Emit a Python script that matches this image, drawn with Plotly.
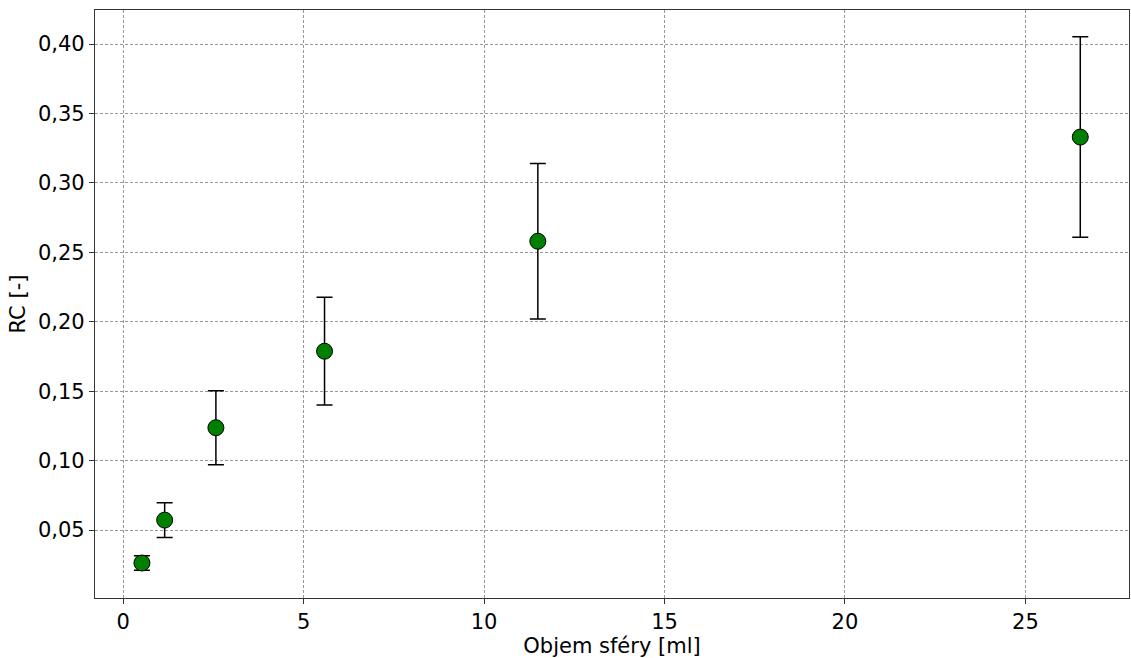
import plotly.graph_objects as go

volume_ml = [0.52, 1.15, 2.57, 5.58, 11.49, 26.52]
rc = [0.0263, 0.0572, 0.1237, 0.1788, 0.2580, 0.3330]
rc_err = [0.0052, 0.0125, 0.0266, 0.0388, 0.0560, 0.0722]

x_ticks = [0, 5, 10, 15, 20, 25]
y_ticks = [0.05, 0.10, 0.15, 0.20, 0.25, 0.30, 0.35, 0.40]
y_labels = [f"{v:.2f}".replace(".", ",") for v in y_ticks]

fig = go.Figure()
fig.add_trace(go.Scatter(
    x=volume_ml, y=rc, mode="markers",
    marker=dict(size=16, color="green", line=dict(color="black", width=1)),
    error_y=dict(type="data", array=rc_err, visible=True, color="black",
                 thickness=1.5, width=8),
    showlegend=False,
))

font = dict(family="DejaVu Sans", size=21, color="black")
grid = dict(showgrid=True, gridcolor="#999999", griddash="3px,2px", gridwidth=0.7)
fig.update_layout(
    width=1131, height=658,
    margin=dict(l=95, r=2, t=10, b=60),
    paper_bgcolor="white", plot_bgcolor="white",
    font=font,
    xaxis=dict(range=[-0.78, 27.87], tickvals=x_ticks, title=dict(text="Objem sféry [ml]", font=font, standoff=4),
               showline=True, linecolor="#333", linewidth=1.2, mirror=True,
               ticks="outside", ticklen=5, tickcolor="#333", zeroline=False, tickfont=font, **grid),
    yaxis=dict(range=[0.0011, 0.4245], tickvals=y_ticks, ticktext=y_labels,
               title=dict(text="RC [-]", font=font, standoff=6),
               showline=True, linecolor="#333", linewidth=1.2, mirror=True,
               ticks="outside", ticklen=5, tickcolor="#333", zeroline=False, tickfont=font, **grid),
)
fig.write_html("out.html", config={"displayModeBar": False},
               post_script="document.body.style.margin='0';document.body.style.overflow='hidden';")
